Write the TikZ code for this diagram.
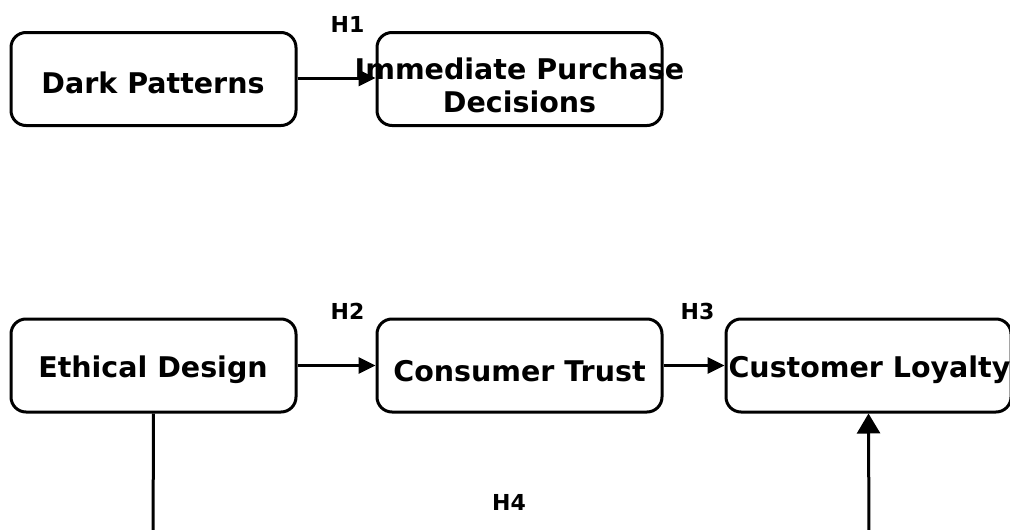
\documentclass[tikz,border=0pt]{standalone}
\usepackage{fontspec}
\setmainfont{DejaVu Sans}
\usetikzlibrary{arrows.meta}
\tikzset{
  box/.style={draw=black, line width=3pt, rounded corners=15pt, minimum width=285pt, minimum height=93pt, inner sep=0pt},
  txt/.style={font=\bfseries\fontsize{28.5}{33}\selectfont, inner sep=0pt, align=center},
  hlab/.style={font=\bfseries\fontsize{22}{26}\selectfont, inner sep=0pt},
  arr/.style={line width=3pt, -{Triangle[length=17pt,width=16pt]}},
  arrb/.style={line width=3pt, -{Triangle[length=20pt,width=23pt]}},
  ln/.style={line width=3pt}
}
\begin{document}
\begin{tikzpicture}[x=1pt,y=1pt]
\useasboundingbox (0,0) rectangle (1010,-530);
\clip (0,0) rectangle (1010,-530);
% boxes
\node[box] (dp) at (153.5,-79) {};
\node[box] (ipd) at (519.5,-79) {};
\node[box] (ed) at (153.5,-365.5) {};
\node[box] (ct) at (519.5,-365.5) {};
\node[box] (cl) at (868.5,-365.5) {};
% texts
\node[txt, anchor=base] (dpt) at (153,-93) {Dark Patterns};
\node[txt, anchor=base] (ipdt1) at (519.5,-79) {Immediate Purchase};
\node[txt, anchor=base] (ipdt2) at (519.5,-112) {Decisions};
\node[txt, anchor=base] (edt) at (153,-377) {Ethical Design};
\node[txt, anchor=base] (ctt) at (519.5,-381) {Consumer Trust};
\node[txt, anchor=base] (clt) at (869.5,-377) {Customer Loyalty};
% hypothesis labels
\node[hlab, anchor=base] (h1) at (347.5,-32) {H1};
\node[hlab, anchor=base] (h2) at (347.5,-319) {H2};
\node[hlab, anchor=base] (h3) at (697.5,-319) {H3};
\node[hlab, anchor=base] (h4) at (509,-510) {H4};
% connectors
\coordinate (edbot) at (153,-545);
\coordinate (clbot) at (869,-545);
\draw[arr] (dp.east |- 0,-78) -- (ipd.west |- 0,-78);
\draw[arr] (ed.east) -- (ct.west);
\draw[arr] (ct.east) -- (cl.west);
\draw[ln] (ed.south) -- (edbot);
\draw[arrb] (clbot) -- (cl.south);
\end{tikzpicture}
\end{document}
